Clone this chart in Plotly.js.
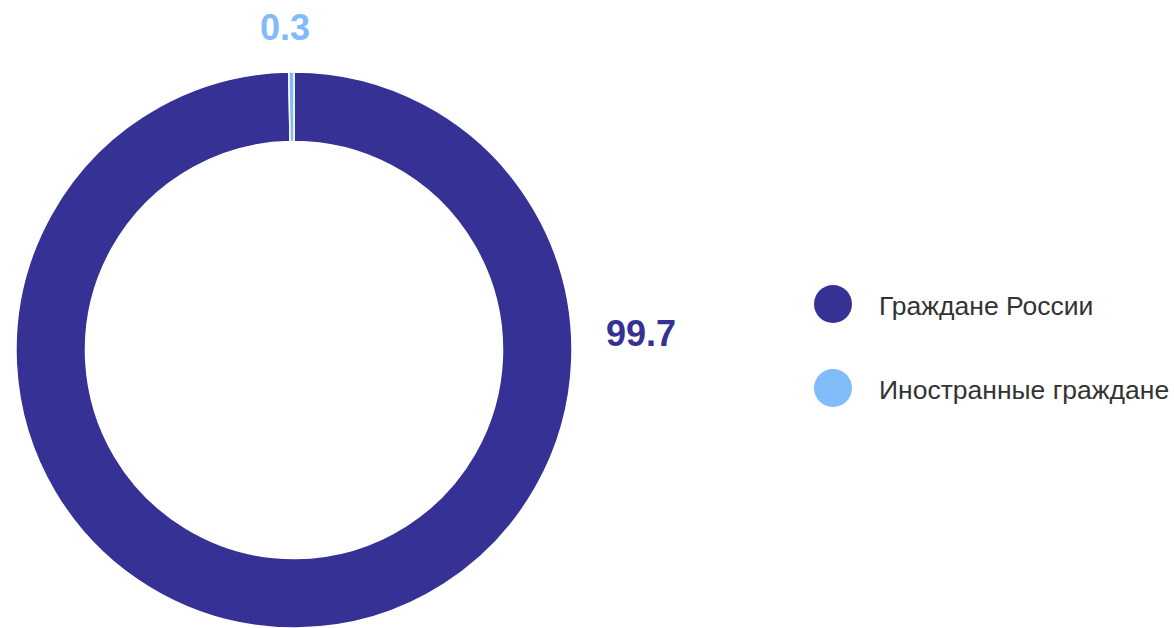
<!DOCTYPE html>
<html>
<head>
<meta charset="utf-8">
<script src="https://cdn.plot.ly/plotly-3.0.1.min.js"></script>
<style>html,body{margin:0;padding:0;background:#fff;}#chart{width:1174px;height:628px;}</style>
</head>
<body>
<div id="chart"></div>
<script>
const categories = ["Граждане России", "Иностранные граждане"];
const values = [99.7, 0.3];
const valueLabels = ["99.7", "0.3"];
const colors = ["#363194", "#80BCFA"];

const W = 1174, H = 628;
const cx = 294, r = 278;

const trace = {
  type: "pie",
  labels: categories,
  values: values,
  sort: false,
  direction: "clockwise",
  rotation: 0,
  hole: 0.75,
  textinfo: "none",
  hoverinfo: "label+value",
  showlegend: false,
  marker: { colors: colors, line: { color: "#ffffff", width: 1.5 } },
  domain: { x: [(cx - r) / W, (cx + r) / W], y: [0, 556 / H] }
};

// value label positions (paper px)
const labelPos = [[641, 333], [285, 27]];
const annotations = [];
const shapes = [];
valueLabels.forEach((t, i) => {
  annotations.push({
    xref: "paper", yref: "paper",
    x: labelPos[i][0] / W, y: 1 - labelPos[i][1] / H,
    xanchor: "center", yanchor: "middle",
    text: "<b>" + t + "</b>", showarrow: false,
    font: { family: "Liberation Sans, Arial, sans-serif", size: 36, color: colors[i] }
  });
});

// custom legend with circles
const legY = [304, 388];
categories.forEach((c, i) => {
  const y = legY[i];
  shapes.push({
    type: "circle", xref: "paper", yref: "paper",
    x0: (833 - 19) / W, x1: (833 + 19) / W,
    y0: 1 - (y + 19) / H, y1: 1 - (y - 19) / H,
    fillcolor: colors[i], line: { width: 0 }
  });
  annotations.push({
    xref: "paper", yref: "paper",
    x: 877 / W, y: 1 - (y + 2) / H,
    xanchor: "left", yanchor: "middle",
    text: c, showarrow: false,
    font: { family: "Liberation Sans, Arial, sans-serif", size: 26.5, color: "#333333" }
  });
});

const layout = {
  width: W, height: H,
  margin: { l: 0, r: 0, t: 0, b: 0 },
  paper_bgcolor: "#ffffff",
  plot_bgcolor: "#ffffff",
  showlegend: false,
  annotations: annotations,
  shapes: shapes
};

Plotly.newPlot("chart", [trace], layout, { displayModeBar: false, staticPlot: true });
</script>
</body>
</html>
